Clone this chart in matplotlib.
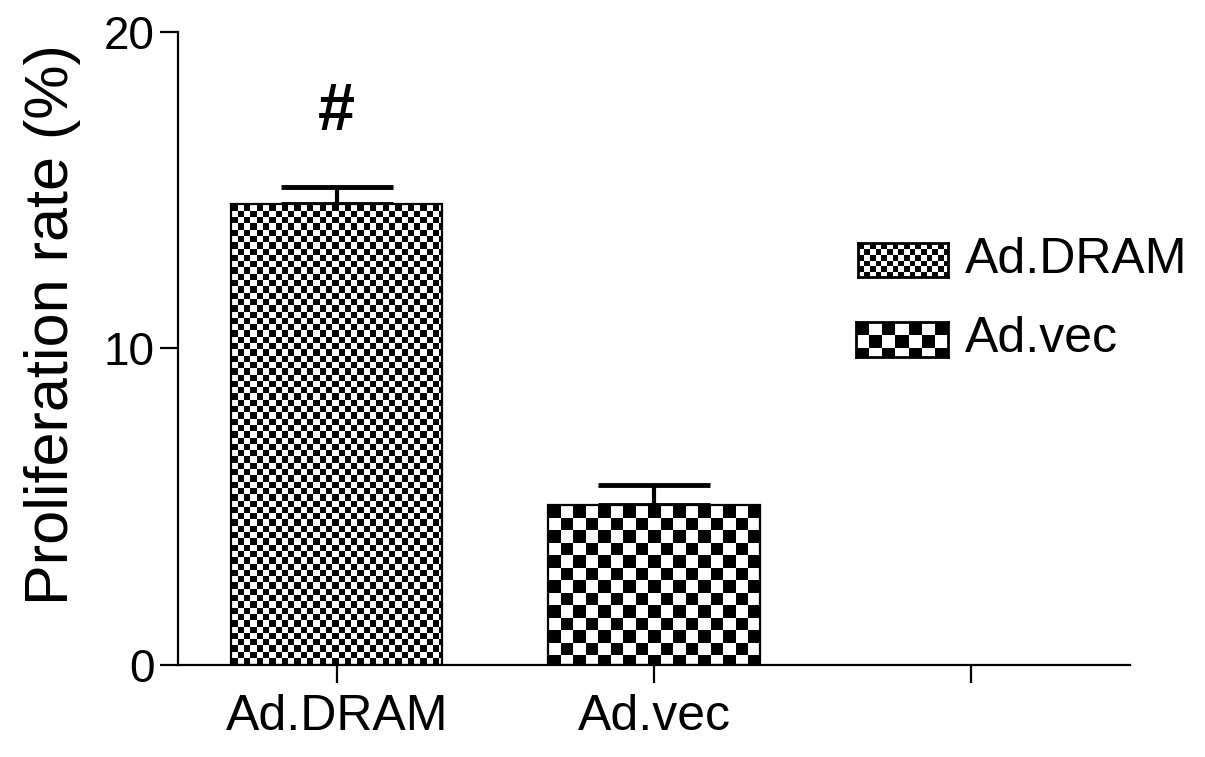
import numpy as np
import matplotlib.pyplot as plt

groups = ['Ad.DRAM', 'Ad.vec']
rates = [14.55, 5.05]
sem = [0.55, 0.65]
tick_labels = ['Ad.DRAM', 'Ad.vec', '']
cell_px = [6.3, 12.5]

plt.rcParams['font.family'] = ['Liberation Sans', 'DejaVu Sans']


def checker(w, h, c):
    yy, xx = np.mgrid[0:h, 0:w]
    return ((xx / c).astype(int) + (yy / c).astype(int)) % 2


fig = plt.figure(figsize=(12.05, 7.57), dpi=100)
ax = fig.add_axes([178 / 1205, 92 / 757, 952 / 1205, 633 / 757])

x = np.arange(len(groups))
bars = ax.bar(x, rates, width=0.667, facecolor='none', edgecolor='black',
              linewidth=1.6, zorder=3)
ax.errorbar(x, rates, yerr=[[0] * len(sem), sem], fmt='none', ecolor='black',
            elinewidth=3, capsize=40, capthick=3.5, zorder=1)
ax.set_xlim(-0.5, 2.5)
ax.set_ylim(0, 20)

# checkerboard fill, clipped to each bar
for bar, c in zip(bars, cell_px):
    bb = bar.get_window_extent()
    img = checker(int(round(bb.width)), int(round(bb.height)), c)
    x0, y0 = bar.get_x(), bar.get_y()
    im = ax.imshow(img, cmap='gray', extent=(x0, x0 + bar.get_width(), y0, y0 + bar.get_height()),
                   origin='upper', interpolation='nearest', aspect='auto', zorder=2)
    im.set_clip_path(bar)
ax.set_xlim(-0.5, 2.5)
ax.set_ylim(0, 20)

ax.text(0, 17.45, '#', ha='center', va='center', fontsize=48, fontweight='bold')

ax.spines['top'].set_visible(False)
ax.spines['right'].set_visible(False)
ax.spines['left'].set_linewidth(1.6)
ax.spines['bottom'].set_linewidth(1.6)
ax.set_yticks([0, 10, 20])
ax.set_xticks([0, 1, 2])
ax.set_xticklabels(tick_labels)
ax.tick_params(axis='y', length=13, width=1.6, labelsize=33, pad=4)
ax.tick_params(axis='x', length=13, width=1.6, labelsize=36, pad=8)
ax.set_ylabel('Proliferation rate (%)', fontsize=44, va='center')
ax.yaxis.set_label_coords(-0.132, 0.537)

# legend drawn by hand so swatches keep the checker pattern
swatches = [[858, 243, 90, 34], [856, 322, 92, 35]]
for (sx, sy, sw, sh), c, name in zip(swatches, cell_px, groups):
    lax = fig.add_axes([sx / 1205, 1 - (sy + sh) / 757, sw / 1205, sh / 757])
    lax.imshow(checker(sw, sh, c * 0.9 if c < 10 else 13), cmap='gray',
               interpolation='nearest', aspect='auto')
    lax.set_xticks([])
    lax.set_yticks([])
    for s in lax.spines.values():
        s.set_linewidth(2)
    fig.text(965 / 1205, 1 - (sy + sh / 2) / 757, name, va='center', ha='left', fontsize=36)

fig.savefig('out.png', dpi=100)
